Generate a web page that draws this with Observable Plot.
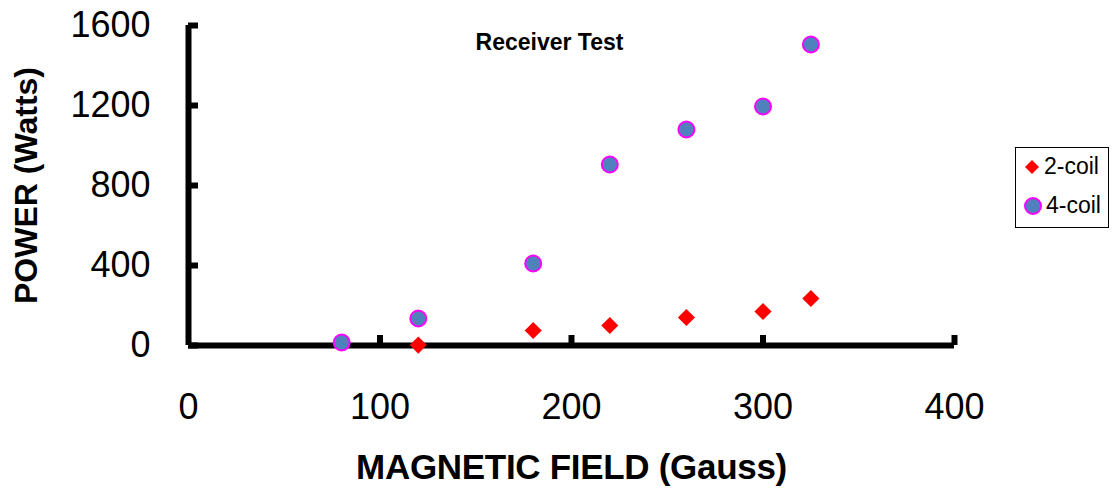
<!DOCTYPE html>
<html>
<head>
<meta charset="utf-8">
<script src="https://cdn.jsdelivr.net/npm/d3@7"></script>
<script src="https://cdn.jsdelivr.net/npm/@observablehq/plot@0.6"></script>
<style>
  html, body { margin: 0; padding: 0; background: #fff; }
  #wrap { position: relative; width: 1112px; height: 490px; font-family: "Liberation Sans", Arial, sans-serif; }
  g[aria-label="y-axis label"] text { font-weight: bold; font-size: 32px; }
  g[aria-label="x-axis label"] text { font-weight: bold; font-size: 35px; letter-spacing: -0.3px; }
  #legend { position: absolute; left: 1015px; top: 147px; width: 92px; height: 79px; border: 1.5px solid #000; background: #fff; font-size: 23px; }
  #legend .item { position: absolute; left: 6px; display: flex; align-items: center; }
  #legend svg { margin-right: 2px; }
</style>
</head>
<body>
<div id="wrap"></div>
<script>
const title = "Receiver Test";
const xLabel = "MAGNETIC FIELD (Gauss)";
const yLabel = "POWER (Watts)";
const seriesNames = ["2-coil", "4-coil"];
const xTicks = [0, 100, 200, 300, 400];
const yTicks = [0, 400, 800, 1200, 1600];

const twoCoilX = [120, 180, 220, 260, 300, 325];
const twoCoilY = [2, 75, 100, 140, 170, 235];
const fourCoilX = [80, 120, 180, 220, 260, 300, 325];
const fourCoilY = [15, 135, 410, 905, 1080, 1195, 1505];

const two = twoCoilX.map((x, i) => ({x, y: twoCoilY[i]}));
const four = fourCoilX.map((x, i) => ({x, y: fourCoilY[i]}));

const red = "#ff0000", blue = "#4f81bd", magenta = "#ff00ff";

const chart = Plot.plot({
  width: 1112,
  height: 490,
  marginLeft: 188,
  marginRight: 158,
  marginTop: 25,
  marginBottom: 145,
  style: {fontFamily: "'Liberation Sans', Arial, sans-serif", fontSize: "36px", color: "#000", background: "#fff"},
  x: {domain: [0, 400]},
  y: {domain: [0, 1600]},
  marks: [
    Plot.ruleX([0], {stroke: "#000", strokeWidth: 6}),
    Plot.ruleY([0], {stroke: "#000", strokeWidth: 6}),
    Plot.axisX(xTicks.slice(1), {tickSize: -10, strokeWidth: 6, text: null, label: null}),
    Plot.axisY(yTicks, {tickSize: -10, strokeWidth: 6, text: null, label: null}),
    Plot.axisX(xTicks, {tickSize: 0, tickPadding: 48, fontSize: 36, tickFormat: d => String(d), label: xLabel, labelAnchor: "center", labelArrow: "none", labelOffset: 133}),
    Plot.axisY(yTicks, {tickSize: 0, tickPadding: 38, fontSize: 36, tickFormat: d => String(d), label: yLabel, labelAnchor: "center", labelArrow: "none", labelOffset: 174}),
    Plot.text([title], {frameAnchor: "top", dx: -22, dy: 8, fontWeight: "bold", fontSize: 23}),
    Plot.dot(two, {x: "x", y: "y", symbol: "diamond2", r: 7.7, fill: red, stroke: "none"}),
    Plot.dot(four, {x: "x", y: "y", symbol: "circle", r: 8, fill: blue, stroke: magenta, strokeWidth: 2})
  ]
});
const wrap = document.getElementById("wrap");
wrap.appendChild(chart);

const legend = document.createElement("div");
legend.id = "legend";
legend.innerHTML = `
  <div class="item" style="top:5px"><svg width="20" height="20"><path d="M10,3 L17,10 L10,17 L3,10 Z" fill="${red}"/></svg><span>${seriesNames[0]}</span></div>
  <div class="item" style="top:44px"><svg width="22" height="22"><circle cx="11" cy="11" r="8" fill="${blue}" stroke="${magenta}" stroke-width="2"/></svg><span>${seriesNames[1]}</span></div>`;
wrap.appendChild(legend);
</script>
</body>
</html>
